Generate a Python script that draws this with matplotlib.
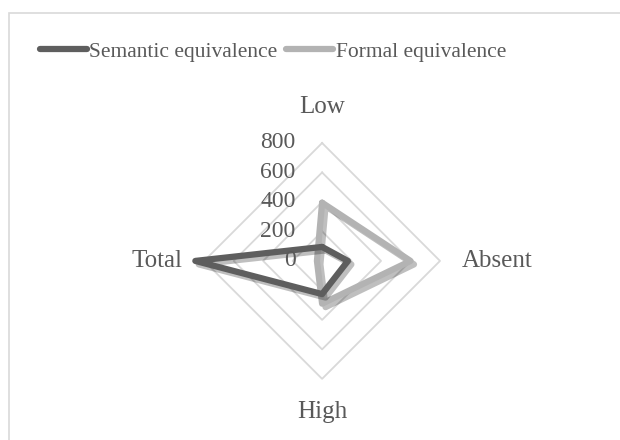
import numpy as np
import matplotlib.pyplot as plt
import matplotlib.patheffects as pe
from matplotlib.patches import Rectangle

plt.rcParams['font.family'] = ['Liberation Serif', 'DejaVu Serif']

categories = ['Low', 'Absent', 'High', 'Total']
semantic = [95, 175, 225, 860]
formal = [395, 600, 290, 35]
rings = [0, 200, 400, 600, 800]

txt = '#595959'
dark = '#5e5e5e'
light = '#b3b3b3'

fig = plt.figure(figsize=(6.2, 4.4), dpi=100)
fig.patches.append(Rectangle((9 / 620, -0.1), 1.2, 1 - 13 / 440 + 0.1, transform=fig.transFigure,
                             fill=False, edgecolor='#d9d9d9', linewidth=1.2))

ax = fig.add_axes([0.329, 0.139, 0.381, 0.536], projection='polar')
ax.set_theta_offset(np.pi / 2)
ax.set_theta_direction(-1)
ax.set_ylim(0, 800)
ax.axis('off')

theta = np.linspace(0, 2 * np.pi, len(categories), endpoint=False)
tc = np.append(theta, theta[0])

# polygon grid
for r in rings[1:]:
    ax.plot(tc, [r] * len(tc), color='#d9d9d9', lw=1.3, zorder=1, clip_on=False)

shadow = [pe.SimpleLineShadow(offset=(2.5, -2.5), shadow_color='k', alpha=0.25), pe.Normal()]
l1, = ax.plot(tc, semantic + semantic[:1], color=dark, lw=4.5, solid_joinstyle='round',
              solid_capstyle='round', zorder=3, clip_on=False, path_effects=shadow,
              label='Semantic equivalence')
l2, = ax.plot(tc, formal + formal[:1], color=light, lw=4.5, solid_joinstyle='round',
              solid_capstyle='round', zorder=2, clip_on=False, path_effects=shadow,
              label='Formal equivalence')

for r in rings:
    ax.annotate(str(r), xy=(0, r), xytext=(-19, 0), textcoords='offset points',
                ha='right', va='center', fontsize=17, color=txt, zorder=4)

label_pos = [(1044, 'center'), (949, 'left'), (1024, 'center'), (949, 'right')]
for t, name, (r, ha) in zip(theta, categories, label_pos):
    ax.text(t, r, name, ha=ha, va='center', fontsize=18, color=txt)

leg = fig.legend(handles=[l1, l2], loc='center', bbox_to_anchor=(0.44, 0.882), ncol=2,
                 frameon=False, fontsize=15.5, handlelength=2.2, handletextpad=0.1,
                 columnspacing=0.4, labelcolor=txt)
for h in leg.get_lines():
    h.set_linewidth(4.5)
    h.set_solid_capstyle('round')
    h.set_path_effects([])

fig.savefig('out.png', dpi=100)
